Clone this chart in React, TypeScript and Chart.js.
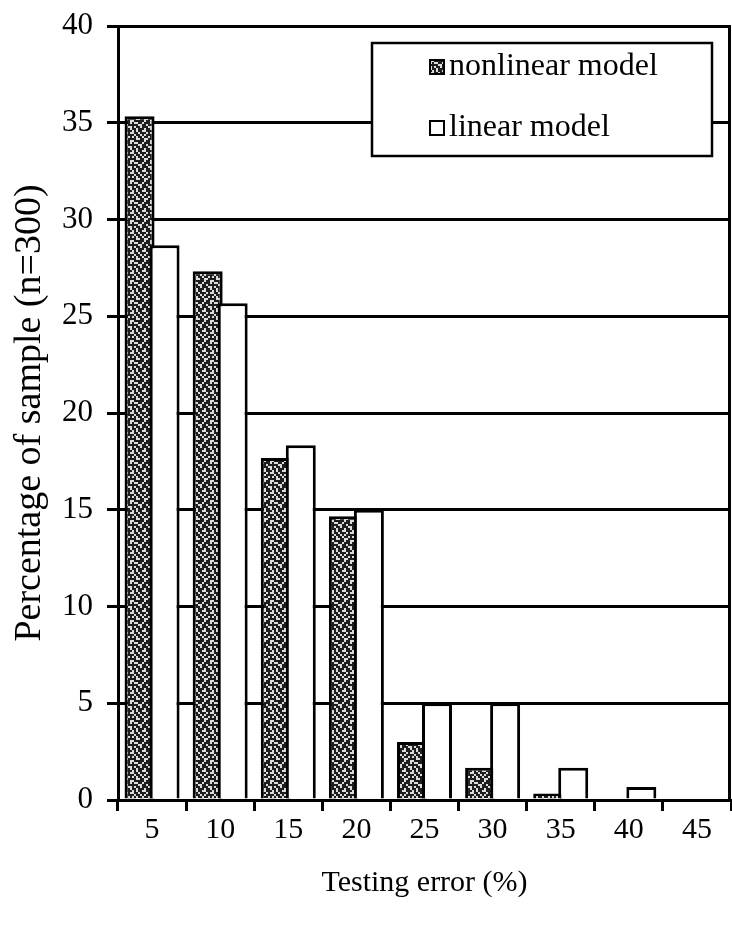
import React, { useEffect, useRef } from 'react';
import { Chart, registerables } from 'chart.js';

Chart.register(...registerables);

// Testing-error bins (%) on the x axis
const errorBins = ['5', '10', '15', '20', '25', '30', '35', '40', '45'];
// Share of the 300 samples falling in each bin (%)
const nonlinearPct = [35.33, 27.33, 17.67, 14.67, 3.0, 1.67, 0.33, 0, 0];
const linearPct = [28.67, 25.67, 18.33, 15.0, 5.0, 5.0, 1.67, 0.67, 0];
const seriesNames = ['nonlinear model', 'linear model'];
const yRange = { min: 0, max: 40, step: 5 };
const xTitle = 'Testing error (%)';
const yTitle = 'Percentage of sample (n=300)';

const SERIF = '"Liberation Serif", "Times New Roman", Times, serif';

// Coarse speckled fill used for the nonlinear bars
function makeStipple(ctx: CanvasRenderingContext2D): CanvasPattern | string {
  const rows = [
    '1101100111',
    '1011101001',
    '0110111110',
    '0111001011',
    '1101101101',
    '1001110101',
    '1110100110',
    '0101111011',
    '1011010101',
    '1100111100',
  ];
  const cell = 2;
  const c = document.createElement('canvas');
  c.width = rows[0].length * cell;
  c.height = rows.length * cell;
  const g = c.getContext('2d');
  if (!g) return '#555';
  g.fillStyle = '#dcdcdc';
  g.fillRect(0, 0, c.width, c.height);
  g.fillStyle = '#1e1e1e';
  rows.forEach((r, y) => {
    r.split('').forEach((ch, x) => {
      if (ch === '1') g.fillRect(x * cell, y * cell, cell, cell);
    });
  });
  return ctx.createPattern(c, 'repeat') || '#555';
}

// Draw datasets first-to-last so the right-hand (linear) bar sits over its neighbour
const drawInIndexOrder = {
  id: 'drawInIndexOrder',
  beforeDatasetsDraw(chart: any) {
    const n = chart.data.datasets.length;
    for (let i = 0; i < n; i++) {
      const meta = chart.getDatasetMeta(i);
      if (chart.isDatasetVisible(i)) meta.controller.draw();
    }
    return false;
  },
};

// Framed legend inside the plot area plus the right-hand plot border
const boxedLegend = {
  id: 'boxedLegend',
  afterDraw(chart: any) {
    const { ctx, chartArea: ca } = chart;
    ctx.save();
    // right border of the plot area
    ctx.strokeStyle = '#000';
    ctx.lineWidth = 3;
    ctx.beginPath();
    ctx.moveTo(ca.right - 1.5, ca.top);
    ctx.lineTo(ca.right - 1.5, ca.bottom);
    ctx.stroke();

    const bx = Math.round(ca.left + ca.width * 0.415);
    const bw = Math.round(ca.width * 0.555);
    const by = ca.top + 17;
    const bh = 113;
    ctx.fillStyle = '#fff';
    ctx.fillRect(bx, by, bw, bh);
    ctx.lineWidth = 2.5;
    ctx.strokeRect(bx, by, bw, bh);

    ctx.font = `32px ${SERIF}`;
    ctx.textBaseline = 'alphabetic';
    ctx.textAlign = 'left';
    const baselines = [by + 32, by + 93];
    chart.data.datasets.forEach((ds: any, i: number) => {
      const base = baselines[i];
      const sx = bx + 58;
      const size = 14;
      ctx.fillStyle = ds.backgroundColor;
      ctx.fillRect(sx, base - size - 1, size, size);
      ctx.lineWidth = 2;
      ctx.strokeStyle = '#000';
      ctx.strokeRect(sx, base - size - 1, size, size);
      ctx.fillStyle = '#000';
      ctx.fillText(ds.label, sx + size + 5, base);
    });
    ctx.restore();
  },
};

export default function App() {
  const ref = useRef<HTMLCanvasElement>(null);

  useEffect(() => {
    const canvas = ref.current;
    if (!canvas) return;
    const ctx = canvas.getContext('2d');
    if (!ctx) return;
    const stipple = makeStipple(ctx);

    const chart = new Chart(canvas, {
      type: 'bar',
      data: {
        labels: errorBins,
        datasets: [
          {
            label: seriesNames[0],
            data: nonlinearPct,
            backgroundColor: stipple as any,
            borderColor: '#000',
            borderWidth: 3,
          },
          {
            label: seriesNames[1],
            data: linearPct,
            backgroundColor: '#ffffff',
            borderColor: '#000',
            borderWidth: 3,
          },
        ],
      },
      options: {
        responsive: false,
        animation: false,
        devicePixelRatio: 1,
        categoryPercentage: 0.734,
        barPercentage: 1.2,
        layout: { padding: { top: 26, right: 1, left: 0, bottom: 0 } },
        plugins: {
          legend: { display: false },
          tooltip: { enabled: false },
        },
        scales: {
          x: {
            offset: true,
            grid: {
              display: true,
              offset: true,
              drawOnChartArea: false,
              drawTicks: true,
              tickLength: 11,
              color: '#000',
              lineWidth: 3,
            },
            border: { display: true, color: '#000', width: 3 },
            ticks: { color: '#000', font: { family: SERIF, size: 30 }, padding: 1, maxRotation: 0 },
            title: {
              display: true,
              text: xTitle,
              color: '#000',
              font: { family: SERIF, size: 30 },
              padding: { top: 0, bottom: 24 },
            },
            afterFit(scale: any) {
              scale.height = 125;
            },
          },
          y: {
            min: yRange.min,
            max: yRange.max,
            ticks: {
              stepSize: yRange.step,
              color: '#000',
              font: { family: SERIF, size: 31 },
              padding: 14,
            },
            grid: { color: '#000', lineWidth: 3, tickLength: 11, drawTicks: true },
            border: { display: true, color: '#000', width: 3 },
            title: {
              display: true,
              text: yTitle,
              color: '#000',
              font: { family: SERIF, size: 38 },
              padding: { top: 7, bottom: 0 },
            },
            afterFit(scale: any) {
              scale.width = 118;
              scale.paddingTop = 0;
              scale.paddingBottom = 0;
            },
          },
        },
      },
      plugins: [drawInIndexOrder, boxedLegend],
    });

    return () => chart.destroy();
  }, []);

  return (
    <div style={{ position: 'fixed', left: 0, top: 0, width: 732, height: 925, background: '#fff' }}>
      <canvas ref={ref} width={732} height={925} style={{ display: 'block' }} />
    </div>
  );
}
